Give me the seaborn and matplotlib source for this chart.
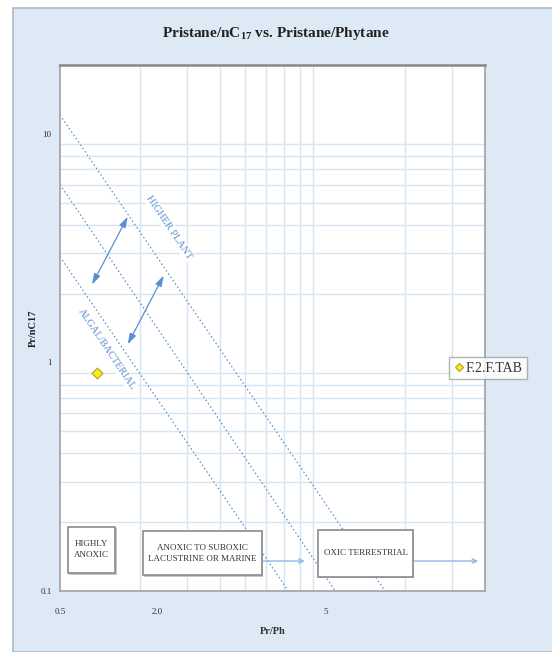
import numpy as np
import pandas as pd
import matplotlib
matplotlib.use("Agg")
import matplotlib.pyplot as plt
from matplotlib.patches import Rectangle
from matplotlib.ticker import NullFormatter
import seaborn as sns

# ==========================================
# DATA
# ==========================================

sample_names = ["F.2.F.TAB"]
pr_ph = [0.69]
pr_nc17 = [0.90]

# dotted boundary lines (Pr/Ph ends, Pr/nC17 ends)
line_x = [[0.5, 8.4], [0.5, 5.45], [0.5, 3.63]]
line_y = [[12.1, 0.1], [6.0, 0.1], [2.9, 0.1]]

# double headed arrows between the lines
arrow_start = [(0.66, 2.19), (0.90, 1.20)]
arrow_end = [(0.90, 4.34), (1.23, 2.40)]

x_grid = [1, 1.5, 2, 2.5, 3, 3.5, 4, 4.5, 5, 10, 15]
y_grid = [0.2, 0.3, 0.4, 0.5, 0.6, 0.7, 0.8, 0.9,
          1, 2, 3, 4, 5, 6, 7, 8, 9, 10]
x_tick_pos = [0.5, 1.16, 5]
x_tick_labels = ["0.5", "2.0", "5"]
y_tick_pos = [0.1, 1, 10]
y_tick_labels = ["0.1", "1", "10"]

zones = ["HIGHLY\nANOXIC", "ANOXIC TO SUBOXIC\nLACUSTRINE OR MARINE", "OXIC TERRESTRIAL"]

# ==========================================
# STYLE
# ==========================================

sns.set_style("white")
plt.rcParams["font.family"] = ["Liberation Serif", "DejaVu Serif"]
plt.rcParams["mathtext.fontset"] = "custom"
plt.rcParams["mathtext.rm"] = "Liberation Serif:bold"
plt.rcParams["mathtext.it"] = "Liberation Serif:bold"
plt.rcParams["mathtext.bf"] = "Liberation Serif:bold"

BG = "#dde9f5"
GRID = "#d6e4f3"
BLUE = "#5b8fd0"
TXT = "#333333"

fig = plt.figure(figsize=(5.52, 6.52), dpi=100)
fig.patch.set_facecolor("white")
fig.patches.append(Rectangle((13 / 552, 0), 1, 1 - 8 / 652, transform=fig.transFigure,
                             facecolor=BG, edgecolor="#b0b8c0", linewidth=1.2, zorder=-10))

ax = fig.add_axes([60 / 552, 1 - 591 / 652, 425 / 552, 526 / 652])
ax.set_facecolor("white")
ax.set_xscale("log")
ax.set_yscale("log")
ax.set_xlim(0.5, 20)
ax.set_ylim(0.1, 20)

# grid
ax.set_xticks(x_grid, minor=True)
ax.set_yticks(y_grid, minor=True)
ax.xaxis.set_minor_formatter(NullFormatter())
ax.yaxis.set_minor_formatter(NullFormatter())
ax.set_xticks(x_tick_pos)
ax.set_xticklabels(x_tick_labels)
ax.set_yticks(y_tick_pos)
ax.set_yticklabels(y_tick_labels)
ax.grid(False)
ax.grid(True, which="minor", color=GRID, linewidth=1.0)
ax.tick_params(which="both", length=0)
ax.tick_params(axis="x", pad=12, labelsize=6.5, labelcolor=TXT)
ax.tick_params(axis="y", pad=6, labelsize=6.5, labelcolor=TXT)

for s in ax.spines.values():
    s.set_color("#a0a0a0")
    s.set_linewidth(1.2)
ax.spines["top"].set_color("#888888")
ax.spines["top"].set_linewidth(1.8)

# ==========================================
# DIAGONAL LINES + ARROWS
# ==========================================

for lx, ly in zip(line_x, line_y):
    sns.lineplot(x=lx, y=ly, ax=ax, color=BLUE, linestyle=(0, (1.2, 2)),
                 linewidth=0.9, sort=False)

for (x0, y0), (x1, y1) in zip(arrow_start, arrow_end):
    ax.annotate("", xy=(x1, y1), xytext=(x0, y0),
                arrowprops=dict(arrowstyle="<|-|>,head_length=0.8,head_width=0.25",
                                color=BLUE, lw=0.9, mutation_scale=8,
                                shrinkA=0, shrinkB=0))

ax.text(1.29, 3.89, "HIGHER PLANT", rotation=-56, color=BLUE, fontsize=7.5,
        ha="center", va="center", rotation_mode="anchor",
        bbox=dict(facecolor="white", edgecolor="none", pad=1))
ax.text(0.75, 1.14, "ALGAL/BACTERIAL", rotation=-56, color=BLUE, fontsize=7.5,
        ha="center", va="center", rotation_mode="anchor",
        bbox=dict(facecolor="white", edgecolor="none", pad=1))

# ==========================================
# SAMPLE
# ==========================================

df = pd.DataFrame({"Pr/Ph": pr_ph, "Pr/nC17": pr_nc17, "Sample": sample_names})
sns.scatterplot(data=df, x="Pr/Ph", y="Pr/nC17", hue="Sample", ax=ax,
                marker="D", s=30, palette=["#f5ee1a"], edgecolor="#b0a020",
                linewidth=0.8, zorder=5)

leg = ax.legend(loc="center", bbox_to_anchor=(488 / 552, 1 - 368 / 652),
                bbox_transform=fig.transFigure, frameon=True, fontsize=10,
                handletextpad=0.05, handlelength=0.8, borderpad=0.35,
                borderaxespad=0, markerscale=0.8, fancybox=False)
leg.get_frame().set_edgecolor("#a0a0a0")
leg.get_frame().set_linewidth(1.0)
for t in leg.get_texts():
    t.set_color(TXT)

# ==========================================
# ZONE BOXES
# ==========================================

boxes = [(0.019, 0.034, 0.111, 0.088),
         (0.195, 0.030, 0.280, 0.084),
         (0.607, 0.027, 0.224, 0.089)]
for (bx, by, bw, bh), label in zip(boxes, zones):
    ax.add_patch(Rectangle((bx + 0.003, by - 0.003), bw, bh, transform=ax.transAxes,
                           facecolor="#c8c8c8", edgecolor="none", zorder=6))
    ax.add_patch(Rectangle((bx, by), bw, bh, transform=ax.transAxes,
                           facecolor="white", edgecolor="#8a8a8a", linewidth=1.2, zorder=7))
    ax.text(bx + bw / 2, by + bh / 2, label, transform=ax.transAxes, ha="center",
            va="center", fontsize=6.5, color=TXT, linespacing=1.5, zorder=8)

for xa, xb in [(0.475, 0.576), (0.831, 0.984)]:
    ax.annotate("", xy=(xb, 0.057), xytext=(xa, 0.057), xycoords="axes fraction",
                arrowprops=dict(arrowstyle="->", color="#8fb8e8", lw=1.0,
                                mutation_scale=8, shrinkA=0, shrinkB=0))

# ==========================================
# TITLES
# ==========================================

fig.text(0.5, 1 - 33 / 652, "Pristane/nC$_{17}$ vs. Pristane/Phytane", ha="center",
         va="center", fontsize=11, fontweight="bold", color="#222222")
ax.set_xlabel("Pr/Ph", fontsize=7.5, fontweight="bold", color=TXT, labelpad=8)
ax.set_ylabel("Pr/nC17", fontsize=7.5, fontweight="bold", color="#222222", labelpad=2)

plt.savefig("out.png", dpi=100, facecolor=fig.get_facecolor())
